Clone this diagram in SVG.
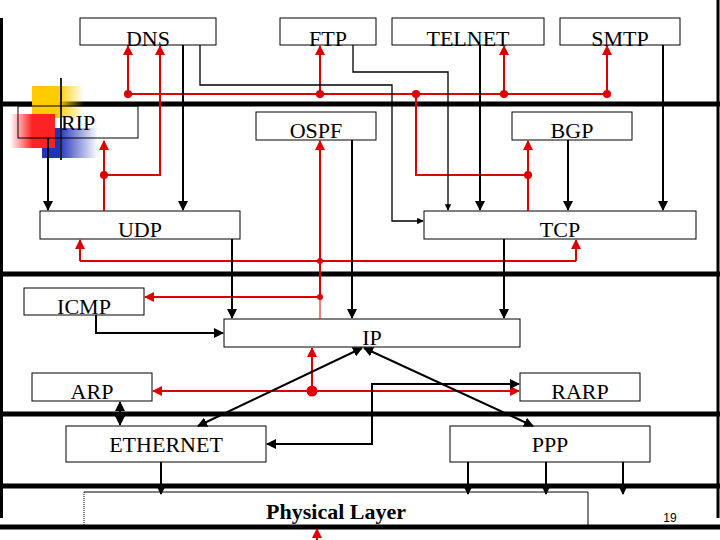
<svg xmlns="http://www.w3.org/2000/svg" width="720" height="540" viewBox="0 0 720 540">
<defs>
<style>
.b{fill:#fff;stroke:#000;stroke-width:1}
.t{font-family:"Liberation Serif",serif;font-size:22px;text-anchor:middle;fill:#000}
.k{fill:none;stroke:#000;stroke-width:2}
.r{fill:none;stroke:#d00;stroke-width:2}
.bar{stroke:#000;stroke-width:5}
</style>
<marker id="ka" viewBox="0 0 10 10" refX="9" refY="5" markerWidth="5" markerHeight="5" orient="auto-start-reverse"><path d="M0,0L10,5L0,10z" fill="#000"/></marker>
<marker id="ra" viewBox="0 0 10 10" refX="9" refY="5" markerWidth="5" markerHeight="5" orient="auto-start-reverse"><path d="M0,0L10,5L0,10z" fill="#d00"/></marker>
<linearGradient id="gy" x1="0" x2="1"><stop offset="0.5" stop-color="#fc0"/><stop offset="1" stop-color="#fc0" stop-opacity="0"/></linearGradient>
<linearGradient id="gr" x1="1" x2="0"><stop offset="0.5" stop-color="#f22"/><stop offset="1" stop-color="#f22" stop-opacity="0"/></linearGradient>
<linearGradient id="gb" x1="0" x2="1"><stop offset="0.3" stop-color="#23b"/><stop offset="1" stop-color="#23b" stop-opacity="0"/></linearGradient>
<linearGradient id="gl" x1="0" x2="1"><stop offset="0" stop-color="#333"/><stop offset="1" stop-color="#333" stop-opacity="0"/></linearGradient>
</defs>
<rect width="720" height="540" fill="#fff"/>
<g id="frame">
<line class="bar" x1="0" y1="104" x2="720" y2="104"/>
<line class="bar" x1="0" y1="274" x2="720" y2="274"/>
<line class="bar" x1="0" y1="414" x2="720" y2="414"/>
<line class="bar" x1="0" y1="486" x2="720" y2="486"/>
<line class="bar" x1="0" y1="527" x2="720" y2="527"/>
<line x1="1.5" y1="18" x2="1.5" y2="518" stroke="#000" stroke-width="3"/>
<line x1="718" y1="0" x2="718" y2="518" stroke="#000" stroke-width="3"/>
<rect x="32" y="86" width="52" height="32" fill="url(#gy)"/>
<rect x="42" y="128" width="56" height="30" fill="url(#gb)"/>
<rect x="10" y="114" width="45" height="34" fill="url(#gr)"/>
<line x1="35" y1="141" x2="620" y2="141" stroke="url(#gl)" stroke-width="2"/>
<line x1="61" y1="78" x2="61" y2="160" stroke="#222" stroke-width="2"/>
</g>
<g id="DNS"><rect class="b" x="80" y="18" width="136" height="27"/><text class="t" x="148" y="46">DNS</text></g>
<g id="FTP"><rect class="b" x="280" y="18" width="96" height="27"/><text class="t" x="328" y="46">FTP</text></g>
<g id="TELNET"><rect class="b" x="392" y="18" width="152" height="27"/><text class="t" x="468" y="46">TELNET</text></g>
<g id="SMTP"><rect class="b" x="560" y="18" width="120" height="27"/><text class="t" x="620" y="46">SMTP</text></g>
<g id="RIP"><rect class="b" x="18" y="106" width="120" height="32" fill-opacity="0"/><text class="t" x="78" y="130">RIP</text></g>
<g id="OSPF"><rect class="b" x="256" y="112" width="120" height="28"/><text class="t" x="316" y="138">OSPF</text></g>
<g id="BGP"><rect class="b" x="512" y="112" width="120" height="28"/><text class="t" x="572" y="138">BGP</text></g>
<g id="UDP"><rect class="b" x="40" y="211" width="200" height="28"/><text class="t" x="140" y="237">UDP</text></g>
<g id="TCP"><rect class="b" x="424" y="211" width="272" height="28"/><text class="t" x="560" y="237">TCP</text></g>
<g id="ICMP"><rect class="b" x="24" y="288" width="120" height="27"/><text class="t" x="84" y="314">ICMP</text></g>
<g id="IP"><rect class="b" x="224" y="319" width="296" height="28"/><text class="t" x="372" y="345">IP</text></g>
<g id="ARP"><rect class="b" x="32" y="373" width="120" height="28"/><text class="t" x="92" y="399">ARP</text></g>
<g id="RARP"><rect class="b" x="520" y="373" width="120" height="28"/><text class="t" x="580" y="399">RARP</text></g>
<g id="ETHERNET"><rect class="b" x="66" y="426" width="200" height="36"/><text class="t" x="166" y="452">ETHERNET</text></g>
<g id="PPP"><rect class="b" x="450" y="426" width="200" height="36"/><text class="t" x="550" y="452">PPP</text></g>
<g id="PhysicalLayer"><path d="M588,526V492H84" fill="none" stroke="#000"/><line x1="84" y1="492" x2="84" y2="526" stroke="#000" stroke-dasharray="1,1"/><text class="t" x="336" y="519" font-weight="bold" font-size="22">Physical Layer</text></g>
<text x="670" y="522" font-family="Liberation Sans,sans-serif" font-size="12" text-anchor="middle">19</text>
<g id="connectors">
<path class="r" d="M128,94H607"/>
<path class="r" d="M128,94V46" marker-end="url(#ra)"/>
<path class="r" d="M320,94V46" marker-end="url(#ra)"/>
<path class="r" d="M504,94V46" marker-end="url(#ra)"/>
<path class="r" d="M607,94V46" marker-end="url(#ra)"/>
<path class="r" d="M104,175H160V46" marker-end="url(#ra)"/>
<path class="r" d="M104,211V141" marker-end="url(#ra)"/>
<path class="r" d="M416,94V175H528"/>
<path class="r" d="M528,211V141" marker-end="url(#ra)"/>
<path class="r" d="M320,297V141" marker-end="url(#ra)"/>
<path class="r" d="M80,261H576"/>
<path class="r" d="M80,261V240" marker-end="url(#ra)"/>
<path class="r" d="M576,261V240" marker-end="url(#ra)"/>
<path class="r" d="M320,297H145" marker-end="url(#ra)"/>
<path d="M320,297V319" stroke="#d00" stroke-width="1"/>
<path class="r" d="M312,391V348" marker-end="url(#ra)"/>
<path class="r" d="M153,391H519" marker-start="url(#ra)" marker-end="url(#ra)"/>
<path class="r" d="M317,540V529" marker-end="url(#ra)"/>
<g fill="#d00"><circle cx="128" cy="94" r="4"/><circle cx="320" cy="94" r="4"/><circle cx="416" cy="94" r="4"/><circle cx="504" cy="94" r="4"/><circle cx="607" cy="94" r="4"/><circle cx="104" cy="175" r="4"/><circle cx="528" cy="175" r="4"/><circle cx="320" cy="261" r="3"/><circle cx="320" cy="297" r="3"/><circle cx="312" cy="391" r="5.5"/></g>
<path class="k" d="M183,45V210" marker-end="url(#ka)"/>
<path class="k" d="M48,138V210" marker-end="url(#ka)"/>
<path d="M200,45V85H392V221H423" fill="none" stroke="#000" stroke-width="1.3" marker-end="url(#ka)"/>
<path d="M353,45V72H448V210" fill="none" stroke="#000" stroke-width="1.3" marker-end="url(#ka)"/>
<path class="k" d="M480,45V210" marker-end="url(#ka)"/>
<path class="k" d="M663,45V210" marker-end="url(#ka)"/>
<path class="k" d="M568,140V210" marker-end="url(#ka)"/>
<path class="k" d="M352,140V318" marker-end="url(#ka)"/>
<path class="k" d="M232,239V318" marker-end="url(#ka)"/>
<path class="k" d="M504,239V318" marker-end="url(#ka)"/>
<path class="k" d="M96,315V333H223" marker-end="url(#ka)"/>
<path class="k" d="M198,426L362,348" marker-start="url(#ka)" marker-end="url(#ka)"/>
<path class="k" d="M533,426L364,348" marker-start="url(#ka)" marker-end="url(#ka)"/>
<path class="k" d="M519,384H372V444H267" marker-start="url(#ka)" marker-end="url(#ka)"/>
<path class="k" d="M120,402V425" marker-start="url(#ka)" marker-end="url(#ka)"/>
<path class="k" d="M161,462V494" marker-end="url(#ka)"/>
<path class="k" d="M468,462V494" marker-end="url(#ka)"/>
<path class="k" d="M546,462V494" marker-end="url(#ka)"/>
<path class="k" d="M623,462V494" marker-end="url(#ka)"/>
</g>
</svg>
